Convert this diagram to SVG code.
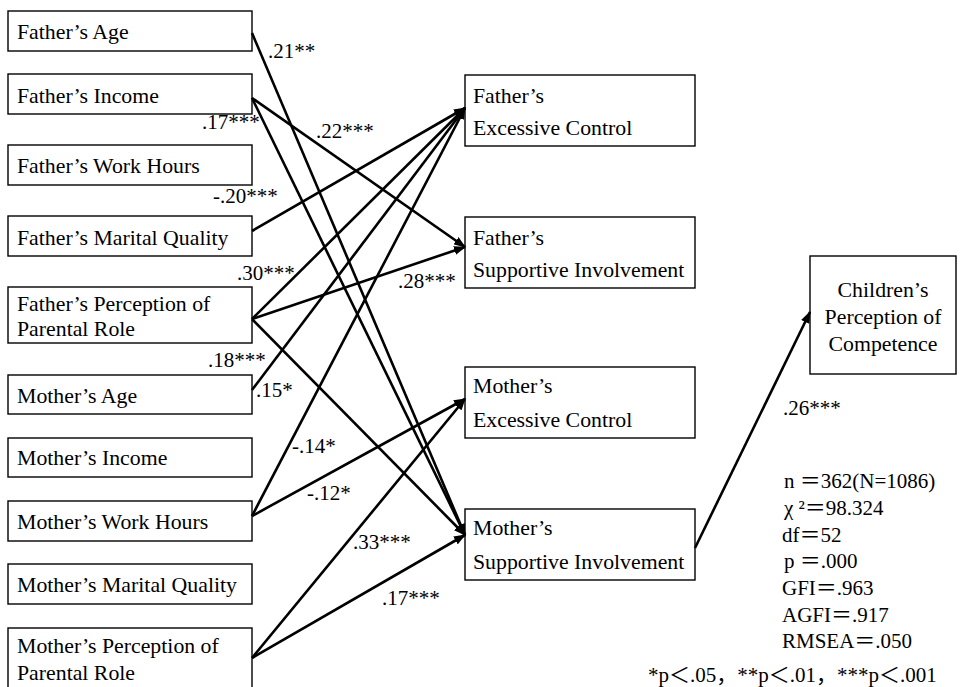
<svg xmlns="http://www.w3.org/2000/svg" width="978" height="687" viewBox="0 0 978 687">
<defs>
<marker id="ah" markerUnits="userSpaceOnUse" markerWidth="12" markerHeight="9" refX="11" refY="4.5" orient="auto">
<path d="M0,0 L12,4.5 L0,9 z" fill="#000"/>
</marker>
<style>
rect{fill:#fff;stroke:#000;stroke-width:1.4}
text{font-family:"Liberation Serif","Times New Roman","Noto Sans CJK JP",serif;font-size:21px;fill:#000}
.n text{font-size:21.8px}
.c line{stroke:#000;stroke-width:2.6;marker-end:url(#ah)}
.mid{text-anchor:middle}
</style>
</defs>
<rect x="0" y="0" width="978" height="687" style="stroke:none"/>

<g class="n" id="father-age"><rect x="8" y="11" width="244" height="40"/><text x="17" y="39">Father’s Age</text></g>
<g class="n" id="father-income"><rect x="8" y="74" width="244" height="40"/><text x="17" y="103">Father’s Income</text></g>
<g class="n" id="father-work"><rect x="8" y="145" width="244" height="40"/><text x="17" y="173">Father’s Work Hours</text></g>
<g class="n" id="father-marital"><rect x="8" y="216" width="244" height="40"/><text x="17" y="245">Father’s Marital Quality</text></g>
<g class="n" id="father-perception"><rect x="8" y="287" width="244" height="56"/><text x="17" y="311">Father’s Perception of</text><text x="17" y="336">Parental Role</text></g>
<g class="n" id="mother-age"><rect x="8" y="375" width="244" height="39"/><text x="17" y="403">Mother’s Age</text></g>
<g class="n" id="mother-income"><rect x="8" y="438" width="244" height="39"/><text x="17" y="465">Mother’s Income</text></g>
<g class="n" id="mother-work"><rect x="8" y="501" width="244" height="40"/><text x="17" y="529">Mother’s Work Hours</text></g>
<g class="n" id="mother-marital"><rect x="8" y="564" width="244" height="40"/><text x="17" y="592">Mother’s Marital Quality</text></g>
<g class="n" id="mother-perception"><rect x="8" y="628" width="244" height="70"/><text x="17" y="653">Mother’s Perception of</text><text x="17" y="680">Parental Role</text></g>

<g class="n" id="father-control"><rect x="465" y="75" width="230" height="71"/><text x="473" y="103">Father’s</text><text x="473" y="135">Excessive Control</text></g>
<g class="n" id="father-support"><rect x="465" y="217" width="230" height="71"/><text x="473" y="245">Father’s</text><text x="473" y="277">Supportive Involvement</text></g>
<g class="n" id="mother-control"><rect x="465" y="367" width="230" height="71"/><text x="473" y="393">Mother’s</text><text x="473" y="427">Excessive Control</text></g>
<g class="n" id="mother-support"><rect x="465" y="509" width="230" height="71"/><text x="473" y="535">Mother’s</text><text x="473" y="569">Supportive Involvement</text></g>

<g class="n" id="children"><rect x="810" y="256" width="146" height="118"/><text class="mid" x="883" y="297">Children’s</text><text class="mid" x="883" y="324">Perception of</text><text class="mid" x="883" y="351">Competence</text></g>

<g class="c" id="connectors">
<line x1="252" y1="33" x2="465" y2="535"/>
<line x1="252" y1="98" x2="465" y2="247"/>
<line x1="252" y1="98" x2="465" y2="535"/>
<line x1="252" y1="231" x2="465" y2="108"/>
<line x1="252" y1="319" x2="465" y2="108"/>
<line x1="252" y1="319" x2="465" y2="247"/>
<line x1="252" y1="319" x2="465" y2="535"/>
<line x1="252" y1="390" x2="465" y2="108"/>
<line x1="252" y1="516" x2="465" y2="108"/>
<line x1="252" y1="516" x2="465" y2="399"/>
<line x1="252" y1="658" x2="465" y2="399"/>
<line x1="252" y1="658" x2="465" y2="535"/>
<line x1="695" y1="548" x2="810" y2="312"/>
</g>

<g id="labels">
<text x="268" y="58">.21**</text>
<text x="202" y="129">.17***</text>
<text x="316" y="138">.22***</text>
<text x="213" y="203">-.20***</text>
<text x="237" y="280">.30***</text>
<text x="398" y="288">.28***</text>
<text x="208" y="367">.18***</text>
<text x="256" y="397">.15*</text>
<text x="292" y="453">-.14*</text>
<text x="307" y="500">-.12*</text>
<text x="353" y="549">.33***</text>
<text x="382" y="605">.17***</text>
<text x="783" y="415">.26***</text>
</g>

<g id="stats">
<text x="784" y="488"> n ＝362(N=1086)</text>
<text x="784" y="515"> χ ²＝98.324</text>
<text x="782" y="542">df＝52</text>
<text x="784" y="568"> p ＝.000</text>
<text x="782" y="595">GFI＝.963</text>
<text x="782" y="622">AGFI＝.917</text>
<text x="782" y="648">RMSEA＝.050</text>
<text x="648" y="682">*p＜.05，**p＜.01，***p＜.001</text>
</g>
</svg>
